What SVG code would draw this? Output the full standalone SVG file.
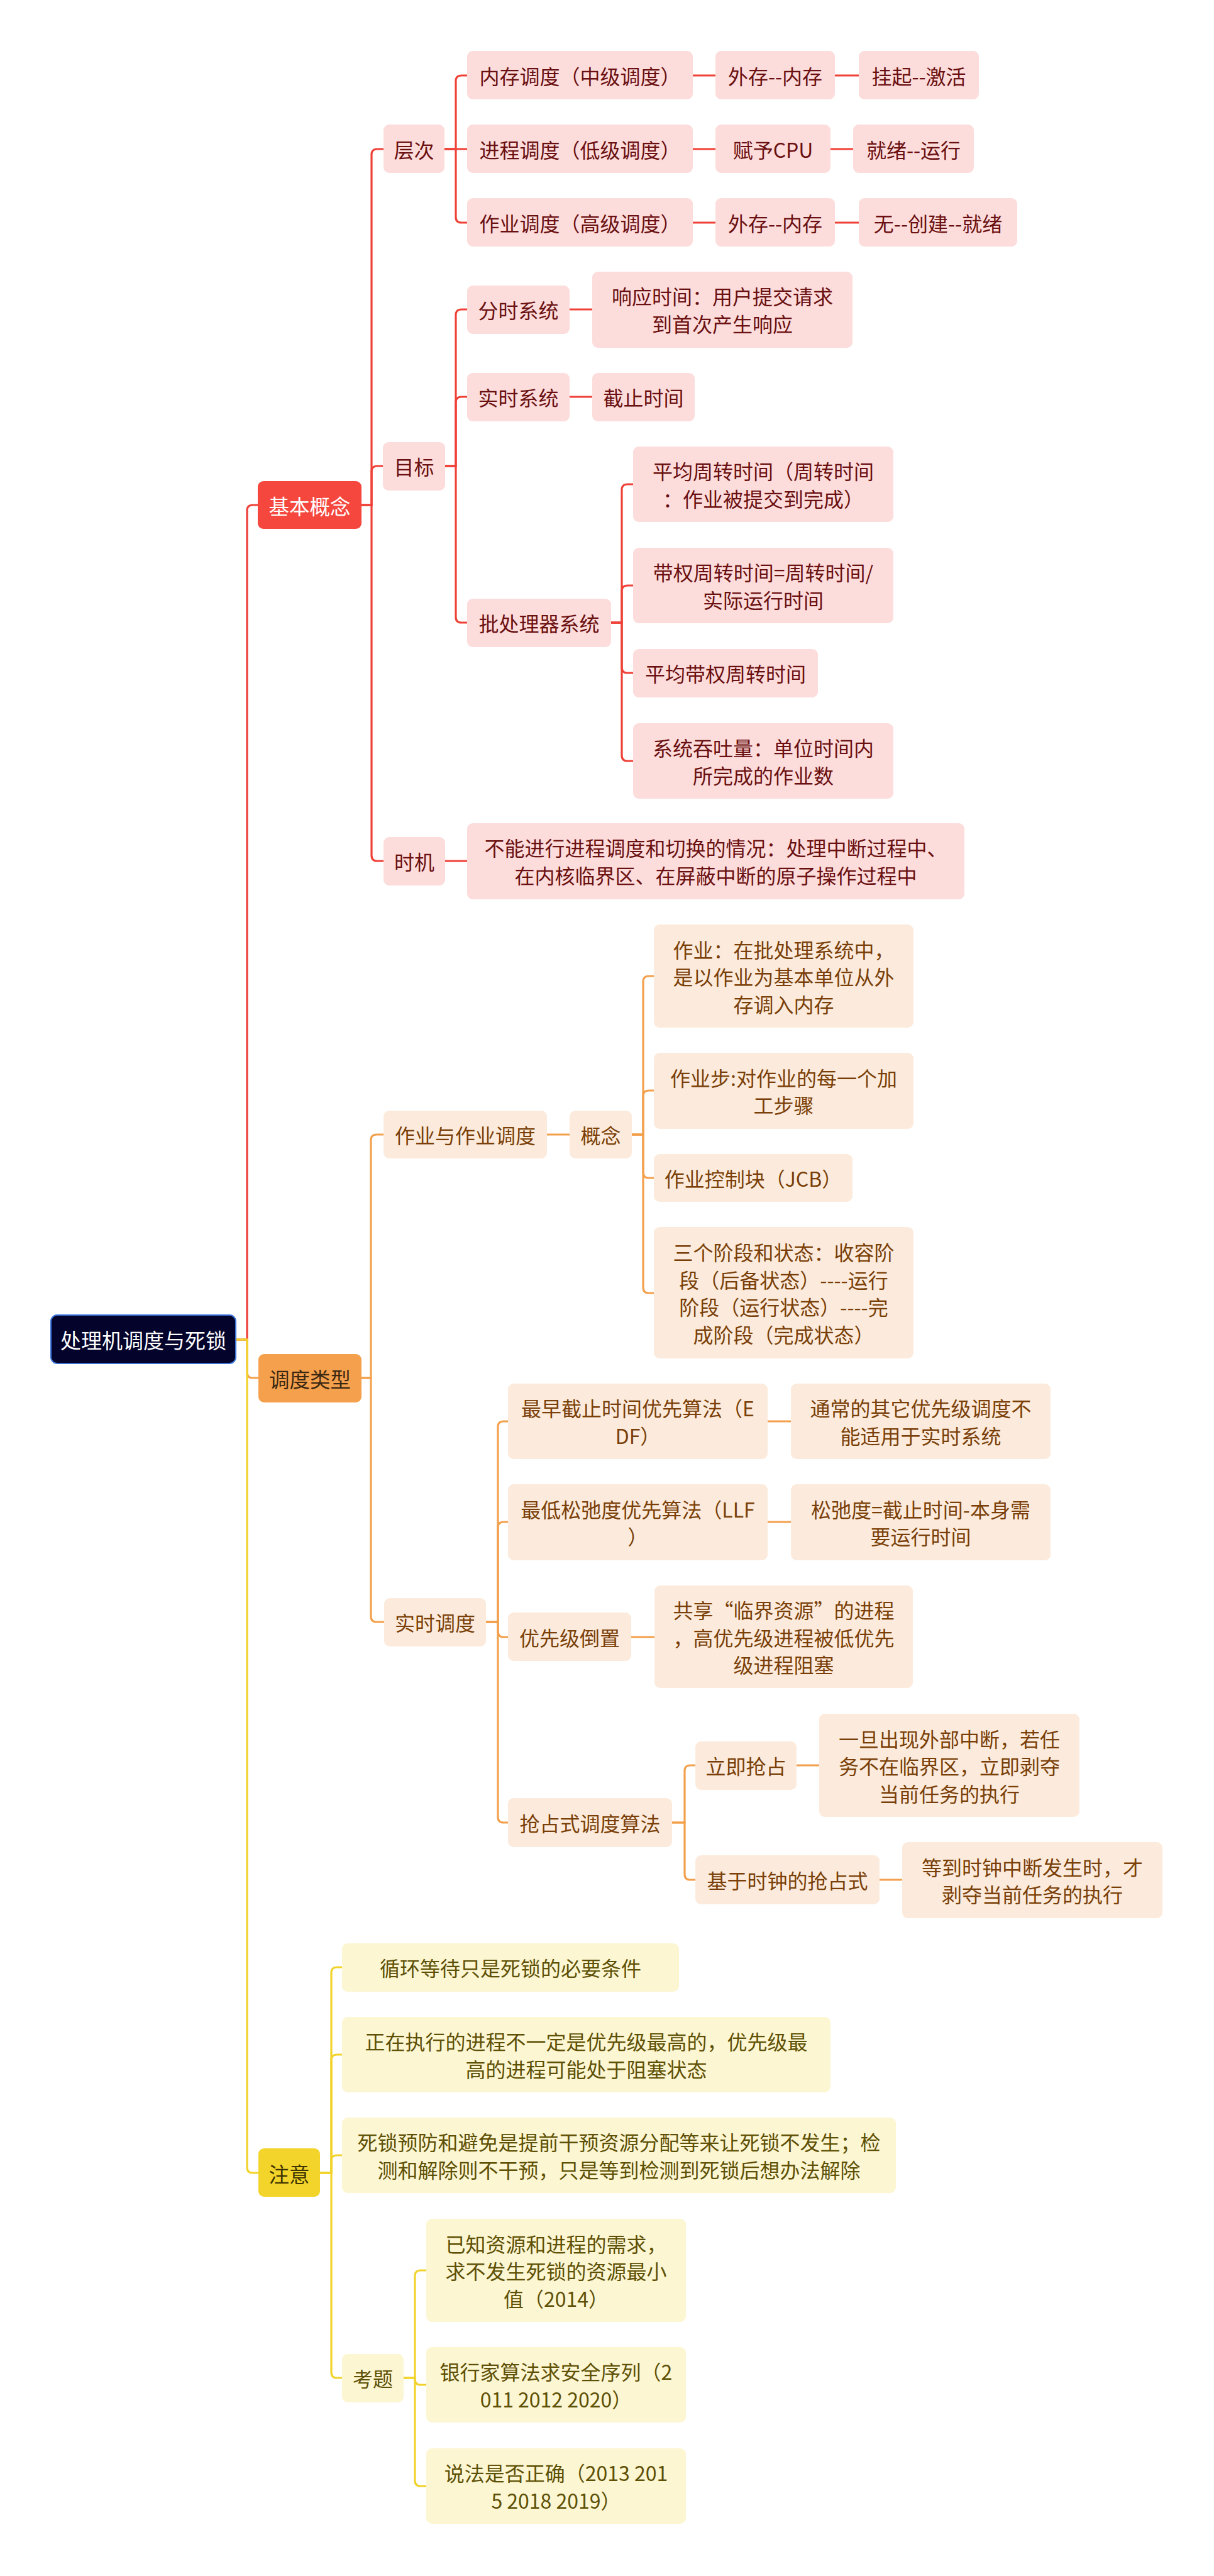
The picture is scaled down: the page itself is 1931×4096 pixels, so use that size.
<svg xmlns="http://www.w3.org/2000/svg" width="1931" height="4096" viewBox="0 0 1931 4096">
<style>
text{font-family:"Noto Sans CJK SC","Noto Sans",sans-serif;font-size:32px;text-anchor:middle;dominant-baseline:central}
.root rect{fill:#03032b;stroke:#3b73d9;stroke-width:2}
.root text{fill:#ffffff;font-size:33px}
.r1 rect{fill:#f5473e}.r1 text{fill:#ffffff;font-size:32.5px}
.r2 rect{fill:#fddcdc}.r2 text{fill:#6a1010}
.o1 rect{fill:#f5a04c}.o1 text{fill:#3a2812;font-size:32.5px}
.o2 rect{fill:#fcebdc}.o2 text{fill:#7a3f08}
.y1 rect{fill:#f2d42a}.y1 text{fill:#3d3300;font-size:32.5px}
.y2 rect{fill:#fcf6d3}.y2 text{fill:#5e5005}
.cr path{stroke:#ef4137}.co path{stroke:#f3a04c}.cy path{stroke:#f1d32b}
#connectors path{fill:none;stroke-width:3.2;stroke-linecap:round}
</style>
<rect width="1931" height="4096" fill="#ffffff"/>
<g id="connectors">
<g class="cr">
<path d="M375 2130H393V812Q393 803 402 803H410"/>
<path d="M575 803H591V246Q591 237 600 237H610"/>
<path d="M575 803H591V750Q591 741 600 741H609"/>
<path d="M575 803H591V1360Q591 1369 600 1369H610"/>
<path d="M707 237H725V129Q725 120 734 120H743"/>
<path d="M707 237H743"/>
<path d="M707 237H725V345Q725 354 734 354H743"/>
<path d="M1102 120H1138"/><path d="M1328 120H1366"/>
<path d="M1102 237H1138"/><path d="M1321 237H1357"/>
<path d="M1102 354H1138"/><path d="M1328 354H1366"/>
<path d="M708 741H725V501Q725 492 734 492H743"/>
<path d="M708 741H725V640Q725 631 734 631H743"/>
<path d="M708 741H725V981Q725 990 734 990H743"/>
<path d="M906 492H942"/><path d="M906 631H942"/>
<path d="M972 990H989V779Q989 770 998 770H1007"/>
<path d="M972 990H989V940Q989 931 998 931H1007"/>
<path d="M972 990H989V1061Q989 1070 998 1070H1007"/>
<path d="M972 990H989V1201Q989 1210 998 1210H1007"/>
<path d="M708 1369H743"/>
</g>
<g class="co">
<path d="M375 2130H393V2182Q393 2191 402 2191H411"/>
<path d="M575 2191H590V1813Q590 1804 599 1804H610"/>
<path d="M575 2191H590V2570Q590 2579 599 2579H611"/>
<path d="M870 1804H906"/>
<path d="M1005 1804H1023V1561Q1023 1552 1032 1552H1040"/>
<path d="M1005 1804H1023V1743Q1023 1734 1032 1734H1040"/>
<path d="M1005 1804H1023V1864Q1023 1873 1032 1873H1040"/>
<path d="M1005 1804H1023V2047Q1023 2056 1032 2056H1040"/>
<path d="M773 2579H792V2269Q792 2260 801 2260H808"/>
<path d="M773 2579H792V2429Q792 2420 801 2420H808"/>
<path d="M773 2579H792V2594Q792 2603 801 2603H808"/>
<path d="M773 2579H792V2889Q792 2898 801 2898H808"/>
<path d="M1221 2260H1258"/><path d="M1221 2420H1258"/><path d="M1004 2603H1041"/>
<path d="M1069 2898H1089V2816Q1089 2807 1098 2807H1106"/>
<path d="M1069 2898H1089V2980Q1089 2989 1098 2989H1106"/>
<path d="M1267 2807H1303"/><path d="M1399 2989H1435"/>
</g>
<g class="cy">
<path d="M375 2130H393V3446Q393 3455 402 3455H411"/>
<path d="M509 3455H527V3137Q527 3128 536 3128H544"/>
<path d="M509 3455H527V3276Q527 3267 536 3267H544"/>
<path d="M509 3455H527V3436Q527 3427 536 3427H544"/>
<path d="M509 3455H527V3772Q527 3781 536 3781H544"/>
<path d="M642 3781H660V3619Q660 3610 669 3610H678"/>
<path d="M642 3781H660V3783Q660 3792 669 3792H678"/>
<path d="M642 3781H660V3944Q660 3953 669 3953H678"/>
</g>
</g>
<g id="root" class="root"><rect x="81" y="2091" width="294" height="77" rx="10"/><text x="228" y="2130">处理机调度与死锁</text></g>
<g id="n-jbgn" class="r1"><rect x="410" y="765" width="165" height="76" rx="9"/><text x="492.5" y="803">基本概念</text></g>
<g id="n-ddlx" class="o1"><rect x="411" y="2153" width="164" height="77" rx="9"/><text x="493" y="2191">调度类型</text></g>
<g id="n-zy" class="y1"><rect x="411" y="3416" width="98" height="77" rx="9"/><text x="460" y="3455">注意</text></g>

<g id="n-cc" class="r2"><rect x="610" y="198" width="97" height="77" rx="9"/><text x="658.5" y="237">层次</text></g>
<g id="n-mb" class="r2"><rect x="609" y="703" width="99" height="77" rx="9"/><text x="658.5" y="741">目标</text></g>
<g id="n-sj" class="r2"><rect x="610" y="1331" width="98" height="77" rx="9"/><text x="659" y="1369">时机</text></g>

<g id="n-nc" class="r2"><rect x="743" y="81" width="359" height="77" rx="9"/><text x="922.5" y="120">内存调度（中级调度）</text></g>
<g id="n-nc1" class="r2"><rect x="1138" y="81" width="190" height="77" rx="9"/><text x="1233" y="120">外存--内存</text></g>
<g id="n-nc2" class="r2"><rect x="1366" y="81" width="191" height="77" rx="9"/><text x="1461.5" y="120">挂起--激活</text></g>
<g id="n-jc" class="r2"><rect x="743" y="198" width="359" height="77" rx="9"/><text x="922.5" y="237">进程调度（低级调度）</text></g>
<g id="n-jc1" class="r2"><rect x="1138" y="198" width="183" height="77" rx="9"/><text x="1229.5" y="237">赋予CPU</text></g>
<g id="n-jc2" class="r2"><rect x="1357" y="198" width="192" height="77" rx="9"/><text x="1453" y="237">就绪--运行</text></g>
<g id="n-zyd" class="r2"><rect x="743" y="315" width="359" height="77" rx="9"/><text x="922.5" y="354">作业调度（高级调度）</text></g>
<g id="n-zyd1" class="r2"><rect x="1138" y="315" width="190" height="77" rx="9"/><text x="1233" y="354">外存--内存</text></g>
<g id="n-zyd2" class="r2"><rect x="1366" y="315" width="252" height="77" rx="9"/><text x="1492" y="354">无--创建--就绪</text></g>

<g id="n-fs" class="r2"><rect x="743" y="454" width="163" height="77" rx="9"/><text x="824.5" y="492">分时系统</text></g>
<g id="n-fs1" class="r2"><rect x="942" y="432" width="414" height="121" rx="9"/><text><tspan x="1149" y="470.25">响应时间：用户提交请求</tspan><tspan x="1149" y="513.75">到首次产生响应</tspan></text></g>
<g id="n-ss" class="r2"><rect x="743" y="593" width="163" height="77" rx="9"/><text x="824.5" y="631">实时系统</text></g>
<g id="n-ss1" class="r2"><rect x="942" y="593" width="163" height="77" rx="9"/><text x="1023.5" y="631">截止时间</text></g>
<g id="n-pcl" class="r2"><rect x="743" y="952" width="229" height="77" rx="9"/><text x="857.5" y="990">批处理器系统</text></g>
<g id="n-pc1" class="r2"><rect x="1007" y="710" width="414" height="120" rx="9"/><text><tspan x="1214" y="748.25">平均周转时间（周转时间</tspan><tspan x="1214" y="791.75">：作业被提交到完成）</tspan></text></g>
<g id="n-pc2" class="r2"><rect x="1007" y="871" width="414" height="120" rx="9"/><text><tspan x="1214" y="909.25">带权周转时间=周转时间/</tspan><tspan x="1214" y="952.75">实际运行时间</tspan></text></g>
<g id="n-pc3" class="r2"><rect x="1007" y="1032" width="294" height="77" rx="9"/><text x="1154" y="1070">平均带权周转时间</text></g>
<g id="n-pc4" class="r2"><rect x="1007" y="1150" width="414" height="120" rx="9"/><text><tspan x="1214" y="1188.25">系统吞吐量：单位时间内</tspan><tspan x="1214" y="1231.75">所完成的作业数</tspan></text></g>
<g id="n-sj1" class="r2"><rect x="743" y="1309" width="791" height="121" rx="9"/><text><tspan x="1138.5" y="1347.25">不能进行进程调度和切换的情况：处理中断过程中、</tspan><tspan x="1138.5" y="1390.75">在内核临界区、在屏蔽中断的原子操作过程中</tspan></text></g>

<g id="n-zyzy" class="o2"><rect x="610" y="1766" width="260" height="76" rx="9"/><text x="740" y="1804">作业与作业调度</text></g>
<g id="n-gn" class="o2"><rect x="906" y="1766" width="99" height="76" rx="9"/><text x="955.5" y="1804">概念</text></g>
<g id="n-gn1" class="o2"><rect x="1040" y="1470" width="413" height="164" rx="9"/><text><tspan x="1246.5" y="1508.5">作业：在批处理系统中，</tspan><tspan x="1246.5" y="1552">是以作业为基本单位从外</tspan><tspan x="1246.5" y="1595.5">存调入内存</tspan></text></g>
<g id="n-gn2" class="o2"><rect x="1040" y="1674" width="413" height="121" rx="9"/><text><tspan x="1246.5" y="1712.75">作业步:对作业的每一个加</tspan><tspan x="1246.5" y="1756.25">工步骤</tspan></text></g>
<g id="n-gn3" class="o2"><rect x="1040" y="1835" width="316" height="76" rx="9"/><text x="1198" y="1873">作业控制块（JCB）</text></g>
<g id="n-gn4" class="o2"><rect x="1040" y="1951" width="413" height="209" rx="9"/><text><tspan x="1246.5" y="1990.25">三个阶段和状态：收容阶</tspan><tspan x="1246.5" y="2033.75">段（后备状态）----运行</tspan><tspan x="1246.5" y="2077.25">阶段（运行状态）----完</tspan><tspan x="1246.5" y="2120.75">成阶段（完成状态）</tspan></text></g>

<g id="n-ssdd" class="o2"><rect x="611" y="2541" width="162" height="77" rx="9"/><text x="692" y="2579">实时调度</text></g>
<g id="n-edf" class="o2"><rect x="808" y="2200" width="413" height="120" rx="9"/><text><tspan x="1014.5" y="2238.25">最早截止时间优先算法（E</tspan><tspan x="1014.5" y="2281.75">DF）</tspan></text></g>
<g id="n-edf1" class="o2"><rect x="1258" y="2200" width="413" height="120" rx="9"/><text><tspan x="1464.5" y="2238.25">通常的其它优先级调度不</tspan><tspan x="1464.5" y="2281.75">能适用于实时系统</tspan></text></g>
<g id="n-llf" class="o2"><rect x="808" y="2360" width="413" height="121" rx="9"/><text><tspan x="1014.5" y="2398.75">最低松弛度优先算法（LLF</tspan><tspan x="1014.5" y="2442.25">）</tspan></text></g>
<g id="n-llf1" class="o2"><rect x="1258" y="2360" width="413" height="121" rx="9"/><text><tspan x="1464.5" y="2398.75">松弛度=截止时间-本身需</tspan><tspan x="1464.5" y="2442.25">要运行时间</tspan></text></g>
<g id="n-yxj" class="o2"><rect x="808" y="2564" width="196" height="77" rx="9"/><text x="906" y="2603">优先级倒置</text></g>
<g id="n-yxj1" class="o2"><rect x="1041" y="2521" width="411" height="163" rx="9"/><text><tspan x="1246.5" y="2559">共享“临界资源”的进程</tspan><tspan x="1246.5" y="2602.5">，高优先级进程被低优先</tspan><tspan x="1246.5" y="2646">级进程阻塞</tspan></text></g>
<g id="n-qzs" class="o2"><rect x="808" y="2859" width="261" height="78" rx="9"/><text x="938.5" y="2898">抢占式调度算法</text></g>
<g id="n-ljqz" class="o2"><rect x="1106" y="2769" width="161" height="77" rx="9"/><text x="1186.5" y="2807">立即抢占</text></g>
<g id="n-ljqz1" class="o2"><rect x="1303" y="2725" width="414" height="164" rx="9"/><text><tspan x="1510" y="2763.5">一旦出现外部中断，若任</tspan><tspan x="1510" y="2807">务不在临界区，立即剥夺</tspan><tspan x="1510" y="2850.5">当前任务的执行</tspan></text></g>
<g id="n-jysz" class="o2"><rect x="1106" y="2950" width="293" height="78" rx="9"/><text x="1252.5" y="2989">基于时钟的抢占式</text></g>
<g id="n-jysz1" class="o2"><rect x="1435" y="2929" width="414" height="121" rx="9"/><text><tspan x="1642" y="2967.75">等到时钟中断发生时，才</tspan><tspan x="1642" y="3011.25">剥夺当前任务的执行</tspan></text></g>

<g id="n-xh" class="y2"><rect x="544" y="3090" width="536" height="77" rx="9"/><text x="812" y="3128">循环等待只是死锁的必要条件</text></g>
<g id="n-zz" class="y2"><rect x="544" y="3207" width="777" height="120" rx="9"/><text><tspan x="932.5" y="3245.25">正在执行的进程不一定是优先级最高的，优先级最</tspan><tspan x="932.5" y="3288.75">高的进程可能处于阻塞状态</tspan></text></g>
<g id="n-sy" class="y2"><rect x="544" y="3367" width="881" height="120" rx="9"/><text><tspan x="984.5" y="3405.25">死锁预防和避免是提前干预资源分配等来让死锁不发生；检</tspan><tspan x="984.5" y="3448.75">测和解除则不干预，只是等到检测到死锁后想办法解除</tspan></text></g>
<g id="n-kt" class="y2"><rect x="544" y="3743" width="98" height="77" rx="9"/><text x="593" y="3781">考题</text></g>
<g id="n-kt1" class="y2"><rect x="678" y="3528" width="413" height="164" rx="9"/><text><tspan x="884.5" y="3566.5">已知资源和进程的需求，</tspan><tspan x="884.5" y="3610">求不发生死锁的资源最小</tspan><tspan x="884.5" y="3653.5">值（2014）</tspan></text></g>
<g id="n-kt2" class="y2"><rect x="678" y="3732" width="413" height="120" rx="9"/><text><tspan x="884.5" y="3770.25">银行家算法求安全序列（2</tspan><tspan x="884.5" y="3813.75">011 2012 2020）</tspan></text></g>
<g id="n-kt3" class="y2"><rect x="678" y="3893" width="413" height="120" rx="9"/><text><tspan x="884.5" y="3931.25">说法是否正确（2013 201</tspan><tspan x="884.5" y="3974.75">5 2018 2019）</tspan></text></g>
</svg>
